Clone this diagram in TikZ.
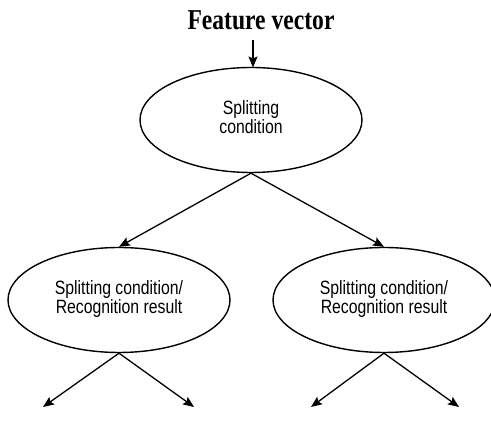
\documentclass[tikz,border=0pt]{standalone}
\usepackage{fontspec}
\usepackage{graphicx}
\setmainfont{Liberation Serif}
\newfontfamily\arialf{Liberation Sans}
\usetikzlibrary{shapes.geometric,arrows.meta}
\newcommand{\tallbox}[1]{\scalebox{1}[1.22]{\begin{tabular}{@{}c@{}}#1\end{tabular}}}
\begin{document}
\begin{tikzpicture}[x=1pt,y=1pt,
  oval/.style={draw,line width=1.4pt,ellipse,minimum width=222pt,minimum height=105pt,inner sep=0pt,
    align=center,font=\arialf\fontsize{15.8}{15.6}\selectfont},
  conn/.style={line width=1.3pt,-{Stealth[length=11pt,width=9pt,inset=2pt]}}]
\useasboundingbox (0,0) rectangle (491,436);
\clip (0,0) rectangle (491,436);
\node[font=\bfseries\fontsize{23.6}{26}\selectfont,inner sep=0pt] (title) at (261,416) {\scalebox{1}[1.22]{Feature vector}};
\coordinate (fvstart) at (253,396);
\node[oval] (root) at (251,316) {\tallbox{Splitting\\condition}};
\node[oval] (left) at (119,136) {\tallbox{Splitting condition/\\Recognition result}};
\node[oval] (right) at (384,136) {\tallbox{Splitting condition/\\Recognition result}};
\coordinate (l1) at (43,29);
\coordinate (l2) at (194,29);
\coordinate (r1) at (311,29);
\coordinate (r2) at (459,29);
\draw[conn] (fvstart) -- (253,368.5);
\draw[conn] (root.south) -- (left.north);
\draw[conn] (root.south) -- (right.north);
\draw[conn] (left.south) -- (l1);
\draw[conn] (left.south) -- (l2);
\draw[conn] (right.south) -- (r1);
\draw[conn] (right.south) -- (r2);
\end{tikzpicture}
\end{document}
